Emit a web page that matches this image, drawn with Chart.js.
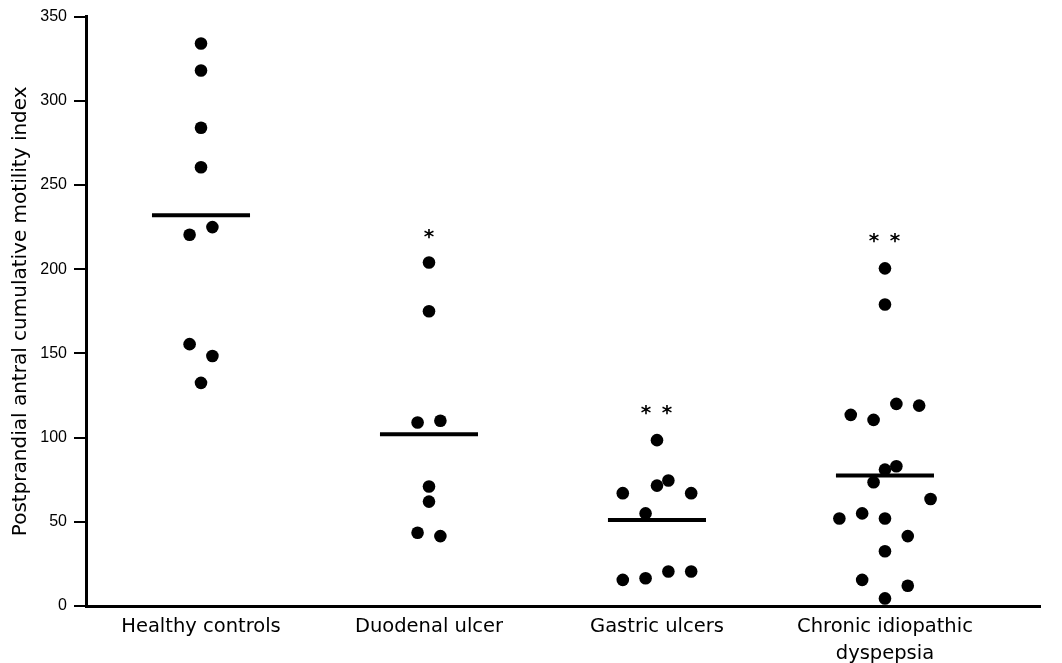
<!DOCTYPE html>
<html><head><meta charset="utf-8">
<script src="https://cdn.jsdelivr.net/npm/chart.js@4"></script>
<style>html,body{margin:0;padding:0;background:#fff}canvas{display:block}</style>
</head><body>
<canvas id="c" width="1062" height="663" style="width:1062px;height:663px"></canvas>
<script>
// ---- data ----
const categories = ['Healthy controls', 'Duodenal ulcer', 'Gastric ulcers', ['Chronic idiopathic', 'dyspepsia']];
const yTicks = [0, 50, 100, 150, 200, 250, 300, 350];
const yTitle = 'Postprandial antral cumulative motility index';

const healthyValues = [334, 318, 284, 260.5, 220.5, 225, 155.5, 148.5, 132.5];
const healthyJitter = [0, 0, 0, 0, -0.05, 0.05, -0.05, 0.05, 0];

const duodenalValues = [204, 175, 109, 110, 71, 62, 43.5, 41.5];
const duodenalJitter = [0, 0, -0.05, 0.05, 0, 0, -0.05, 0.05];

const gastricValues = [98.5, 67, 71.5, 74.5, 67, 55, 15.5, 16.5, 20.5, 20.5];
const gastricJitter = [0, -0.15, 0, 0.05, 0.15, -0.05, -0.15, -0.05, 0.05, 0.15];

const chronicValues = [200.5, 179, 113.5, 110.5, 120, 119, 81, 83, 73.5, 63.5, 52, 55, 52, 41.5, 32.5, 15.5, 12, 4.5];
const chronicJitter = [0, 0, -0.15, -0.05, 0.05, 0.15, 0, 0.05, -0.05, 0.2, -0.2, -0.1, 0, 0.1, 0, -0.1, 0.1, 0];

const groupMeans = [232, 102, 51, 77.5];

const starGroups = [2, 3, 3, 4, 4];
const starJitter = [0, -0.048, 0.044, -0.048, 0.044];
const starValues = [221, 116.3, 116.3, 218.7, 218.7];

// ---- build datasets ----
const groupValues = [healthyValues, duodenalValues, gastricValues, chronicValues];
const groupJitter = [healthyJitter, duodenalJitter, gastricJitter, chronicJitter];
const MEAN_HALF = 0.215;

const datasets = [];
groupValues.forEach((vals, gi) => {
  const g = gi + 1;
  datasets.push({
    type: 'scatter',
    data: vals.map((v, i) => ({x: g + groupJitter[gi][i], y: v})),
    backgroundColor: '#000',
    borderWidth: 0,
    pointRadius: 6.3,
    pointHoverRadius: 6.3
  });
  datasets.push({
    type: 'line',
    data: [{x: g - MEAN_HALF, y: groupMeans[gi]}, {x: g + MEAN_HALF, y: groupMeans[gi]}],
    borderColor: '#000',
    borderWidth: 4,
    borderCapStyle: 'butt',
    pointRadius: 0,
    fill: false
  });
});

const starPlugin = {
  id: 'stars',
  afterDatasetsDraw(chart) {
    const {ctx, scales: {x, y}} = chart;
    ctx.save();
    ctx.fillStyle = '#000';
    ctx.font = 'bold 20px "DejaVu Sans"';
    ctx.textAlign = 'center';
    ctx.textBaseline = 'alphabetic';
    const m = ctx.measureText('*');
    const off = (m.actualBoundingBoxAscent - m.actualBoundingBoxDescent) / 2;
    starValues.forEach((v, i) => {
      const px = x.getPixelForValue(starGroups[i] + starJitter[i]);
      const py = y.getPixelForValue(v);
      ctx.fillText('*', px, py + off);
    });
    ctx.restore();
  }
};

new Chart(document.getElementById('c'), {
  type: 'scatter',
  data: {datasets},
  plugins: [starPlugin],
  options: {
    responsive: false,
    animation: false,
    devicePixelRatio: 1,
    layout: {padding: {top: 16, right: 22, left: 0, bottom: 0}},
    plugins: {legend: {display: false}, tooltip: {enabled: false}},
    scales: {
      x: {
        type: 'linear',
        min: 0.4956,
        max: 4.68,
        afterBuildTicks: s => { s.ticks = [1, 2, 3, 4].map(v => ({value: v})); },
        afterFit: s => { s.height = 57; },
        ticks: {
          callback: v => categories[Math.round(v) - 1] || '',
          color: '#000',
          font: {family: 'DejaVu Sans', size: 19.5, lineHeight: 1.37},
          padding: 8,
          autoSkip: false,
          maxRotation: 0
        },
        grid: {display: false, drawTicks: false},
        border: {display: true, color: '#000', width: 3}
      },
      y: {
        type: 'linear',
        min: 0,
        max: 350,
        afterBuildTicks: s => { s.ticks = yTicks.map(v => ({value: v})); },
        afterFit: s => { s.width = 86; },
        ticks: {
          color: '#000',
          font: {family: 'Liberation Sans', size: 16},
          padding: 7
        },
        grid: {drawOnChartArea: false, drawTicks: true, tickLength: 12, tickWidth: 2, tickColor: '#000', color: '#000', lineWidth: 2},
        border: {display: true, color: '#000', width: 3},
        title: {
          display: true,
          text: yTitle,
          color: '#000',
          font: {family: 'DejaVu Sans', size: 20},
          padding: {top: 9, bottom: 0}
        }
      }
    }
  }
});
</script>
</body></html>
